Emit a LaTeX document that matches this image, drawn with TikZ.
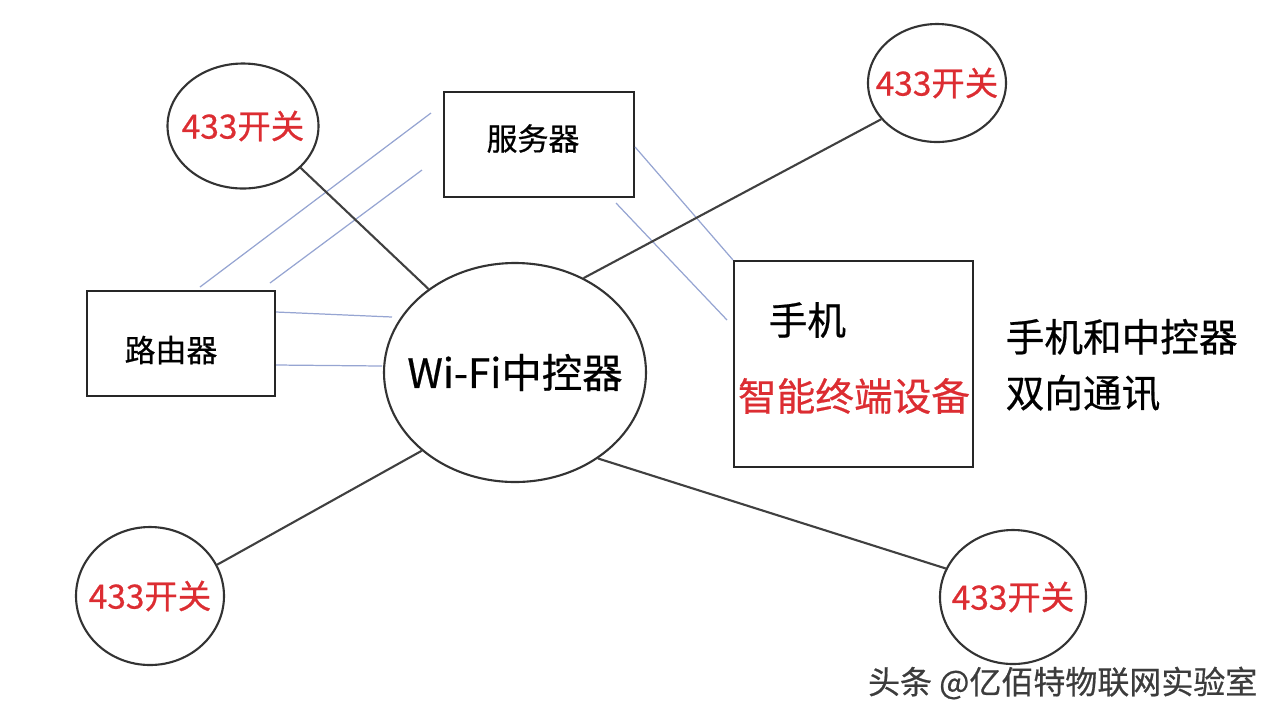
\documentclass[tikz,border=0pt]{standalone}
\usepackage{fontspec}
\setmainfont{Noto Sans CJK SC}[FakeBold=0.6]
\usetikzlibrary{shapes.geometric}

\definecolor{swred}{RGB}{220,45,50}
\definecolor{linkblue}{RGB}{150,165,210}
\definecolor{markgray}{RGB}{60,60,60}

\begin{document}
\begin{tikzpicture}[x=0.1mm,y=-0.1mm,
    sw/.style={draw=black!80,line width=0.6pt,ellipse,inner sep=0pt},
    swtext/.style={text=swred,font=\fontsize{9.5}{10}\selectfont},
    box/.style={draw=black!85,line width=0.6pt,rectangle,inner sep=0pt},
    boxtext/.style={font=\fontsize{8.8}{10}\selectfont},
    wire/.style={black!75,line width=0.6pt},
    link/.style={linkblue,line width=0.35pt}]
  \useasboundingbox (0,0) rectangle (1280,720);

  % nodes
  \node[sw,minimum width=15.1mm,minimum height=12.5mm,label={[swtext]center:433开关}] (sw1) at (243,126) {};
  \node[sw,minimum width=13.8mm,minimum height=11.8mm,label={[swtext]center:433开关}] (sw2) at (937,83) {};
  \node[sw,minimum width=14.8mm,minimum height=13.8mm,label={[swtext]center:433开关}] (sw3) at (150,596) {};
  \node[sw,minimum width=14.6mm,minimum height=13.4mm,label={[swtext]center:433开关}] (sw4) at (1013,597) {};
  \node[box,minimum width=19mm,minimum height=10.5mm,
        label={[boxtext,xshift=-0.6mm,yshift=0.6mm]center:服务器}] (server) at (539,144.5) {};
  \node[box,minimum width=18.8mm,minimum height=10.5mm,
        label={[boxtext,xshift=-1mm,yshift=-0.65mm]center:路由器}] (router) at (181,343.5) {};
  \node[sw,minimum width=26.2mm,minimum height=21.9mm,
        label={[font=\fontsize{11.5}{12}\selectfont]center:Wi-Fi中控器}] (ctrl) at (515,372.5) {};
  \node[box,minimum width=23.9mm,minimum height=20.6mm] (phone) at (853.5,364) {};
  \node[anchor=west,inner sep=0pt,font=\fontsize{11}{12}\selectfont] (phonename) at (768,320) {手机};
  \node[inner sep=0pt,text=swred,font=\fontsize{11}{12}\selectfont] (phonetype) at (854,396) {智能终端设备};
  \node[anchor=west,align=left,inner sep=0pt,font=\fontsize{11}{15.9}\selectfont] (note) at (1005,365) {手机和中控器\\双向通讯};
  \node[anchor=east,inner sep=0pt,text=markgray,font=\fontsize{9.1}{10}\selectfont] (mark) at (1258,683) {头条 @亿佰特物联网实验室};

  % free ends of the thin links
  \coordinate (s1) at (431,113);
  \coordinate (r1) at (200,287);
  \coordinate (s2) at (422,170);
  \coordinate (r2) at (270,283);
  \coordinate (c1) at (392,317);
  \coordinate (c2) at (382,366);
  \coordinate (p2) at (727,320);

  % thin links
  \draw[link] (r1) -- (s1);
  \draw[link] (r2) -- (s2);
  \draw[link] ([yshift=3.15mm]router.east) -- (c1);
  \draw[link] ([yshift=-2.15mm]router.east) -- (c2);
  \draw[link] ([yshift=-0.25mm]server.east) -- (phone.north west);
  \draw[link] ([xshift=-1.9mm,yshift=-0.5mm]server.south east) -- (p2);

  % switches to the controller
  \draw[wire] (sw1.-36) -- (ctrl.136);
  \draw[wire] (ctrl.54.5) -- (sw2.213);
  \draw[wire] (ctrl.220) -- (sw3.25);
  \draw[wire] (ctrl.-46) -- (sw4.157);
\end{tikzpicture}
\end{document}
